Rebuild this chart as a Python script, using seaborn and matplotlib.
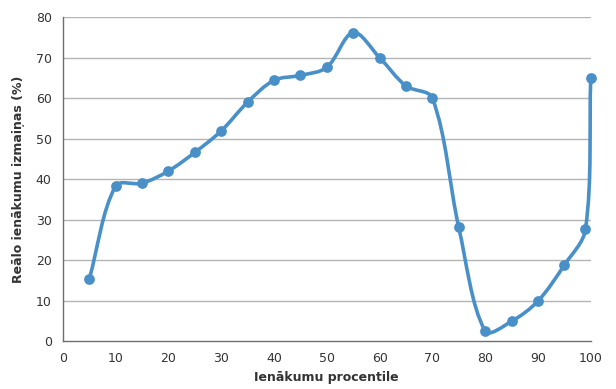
import numpy as np
import pandas as pd
import matplotlib
matplotlib.use("Agg")
import matplotlib.pyplot as plt
from matplotlib.path import Path
from matplotlib.patches import PathPatch
import seaborn as sns

# Data
percentile = [5, 10, 15, 20, 25, 30, 35, 40, 45, 50, 55, 60, 65, 70, 75, 80, 85, 90, 95, 99, 100]
change = [15.3, 38.3, 39.0, 42.0, 46.6, 51.9, 59.0, 64.4, 65.6, 67.6, 76.2, 70.0, 63.0, 60.0,
          28.1, 2.5, 4.9, 9.9, 18.8, 27.6, 65.0]

df = pd.DataFrame({"percentile": percentile, "change": change})

color = "#4a90c8"

sns.set_style("white")
plt.rcParams["font.family"] = ["DejaVu Sans"]

fig = plt.figure(figsize=(6.16, 3.89), dpi=100)
ax = fig.add_axes([0.102, 0.123, 0.857, 0.833])
ax.set_xlim(0, 100)
ax.set_ylim(0, 80)

# smoothed line, spreadsheet style: Bezier arms scaled by segment lengths on screen
pts = ax.transData.transform(np.column_stack([percentile, change]).astype(float))
n = len(pts)
seg = np.linalg.norm(np.diff(pts, axis=0), axis=1)
arm_in = np.zeros_like(pts)
arm_out = np.zeros_like(pts)
for i in range(n):
    if i == 0:
        arm_out[i] = (pts[1] - pts[0]) / 3.0
        continue
    if i == n - 1:
        arm_in[i] = (pts[i] - pts[i - 1]) / 3.0
        continue
    d = pts[i + 1] - pts[i - 1]
    l_in, l_out = seg[i - 1], seg[i]
    arm_in[i] = d * l_in / (l_in + l_out) / 3.0
    arm_out[i] = d * l_out / (l_in + l_out) / 3.0

verts = [pts[0]]
codes = [Path.MOVETO]
for i in range(n - 1):
    verts += [pts[i] + arm_out[i], pts[i + 1] - arm_in[i + 1], pts[i + 1]]
    codes += [Path.CURVE4] * 3
verts = ax.transData.inverted().transform(np.array(verts))
ax.add_patch(PathPatch(Path(verts, codes), facecolor="none", edgecolor=color,
                       linewidth=2.6, zorder=3, capstyle="round", joinstyle="round",
                       clip_on=False))

sns.scatterplot(data=df, x="percentile", y="change", ax=ax, color=color, s=60,
                edgecolor=color, linewidth=0, zorder=4, legend=False, clip_on=False)

ax.set_xlim(0, 100)
ax.set_ylim(0, 80)
ax.set_xticks(range(0, 101, 10))
ax.set_yticks(range(0, 81, 10))
for yv in range(10, 81, 10):
    ax.axhline(yv, color="#b4b4b4", linewidth=1.0, zorder=1)

for side in ["top", "right"]:
    ax.spines[side].set_visible(False)
for side in ["left", "bottom"]:
    ax.spines[side].set_color("#6e6e6e")
    ax.spines[side].set_linewidth(1.0)

ax.tick_params(axis="both", direction="out", length=4, width=1, color="#6e6e6e",
               labelsize=9, labelcolor="#333333", pad=4)

ax.set_xlabel("Ienākumu procentile", fontsize=9, fontweight="bold", color="#333333", labelpad=4)
ax.set_ylabel("Reālo ienākumu izmaiņas (%)", fontsize=9, fontweight="bold", color="#333333", labelpad=8)

fig.savefig("out.png", dpi=100)
